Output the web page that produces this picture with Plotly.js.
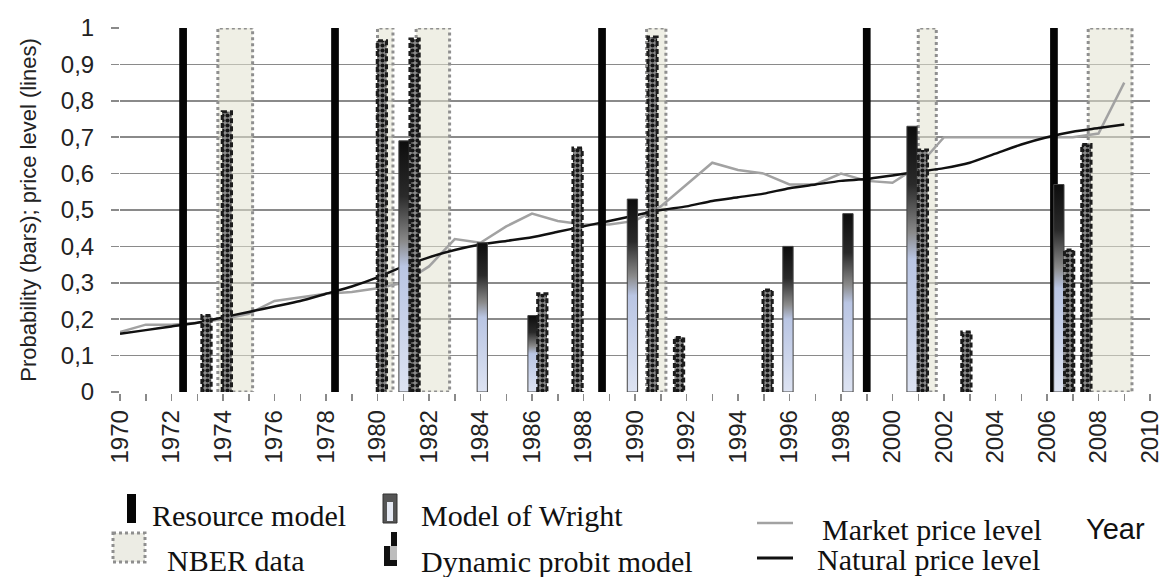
<!DOCTYPE html>
<html><head><meta charset="utf-8">
<script src="https://cdn.plot.ly/plotly-3.0.1.min.js"></script>
<style>html,body{margin:0;padding:0;background:#fff;}#chart{width:1164px;height:577px;}</style>
</head><body><div id="chart"></div>
<script>
// ---------------- data ----------------
const years = [1970,1971,1972,1973,1974,1975,1976,1977,1978,1979,
               1980,1981,1982,1983,1984,1985,1986,1987,1988,1989,
               1990,1991,1992,1993,1994,1995,1996,1997,1998,1999,
               2000,2001,2002,2003,2004,2005,2006,2007,2008,2009];
const marketPrice = [0.165,0.185,0.185,0.19,0.20,0.215,0.25,0.26,0.27,0.275,
                     0.285,0.30,0.345,0.42,0.41,0.455,0.49,0.47,0.46,0.46,
                     0.47,0.51,0.57,0.63,0.61,0.60,0.57,0.57,0.60,0.58,
                     0.575,0.62,0.70,0.70,0.70,0.70,0.70,0.70,0.71,0.85];
const naturalPrice = [0.16,0.17,0.18,0.19,0.205,0.22,0.235,0.25,0.27,0.29,
                      0.315,0.345,0.37,0.39,0.405,0.415,0.425,0.44,0.455,0.47,
                      0.485,0.50,0.51,0.525,0.535,0.545,0.56,0.57,0.58,0.585,
                      0.595,0.605,0.615,0.63,0.655,0.68,0.70,0.715,0.725,0.735];

const resourceYears = [1972.45, 1978.35, 1988.72, 1999.0, 2006.27];
const resourceProb  = [1, 1, 1, 1, 1];

const wrightYears = [1981.03, 1984.07, 1986.04, 1989.9, 1995.94, 1998.27, 2000.76, 2006.46];
const wrightProb  = [0.69, 0.41, 0.21, 0.53, 0.40, 0.49, 0.73, 0.57];

const probitYears = [1973.36, 1974.15, 1980.17, 1981.44, 1986.4, 1987.77, 1990.68,
                     1991.71, 1995.15, 2001.18, 2002.87, 2006.86, 2007.53];
const probitProb  = [0.21, 0.77, 0.965, 0.97, 0.27, 0.67, 0.975,
                     0.15, 0.28, 0.665, 0.165, 0.39, 0.68];

const nberStart = [1973.8, 1980.0, 1981.5, 1990.45, 2001.0, 2007.6];
const nberEnd   = [1975.15, 1980.6, 1982.8, 1991.2, 2001.7, 2009.3];

const xTickYears = [1970,1972,1974,1976,1978,1980,1982,1984,1986,1988,1990,
                    1992,1994,1996,1998,2000,2002,2004,2006,2008,2010];
const yTickVals  = [0,0.1,0.2,0.3,0.4,0.5,0.6,0.7,0.8,0.9,1];
const yTickText  = ['0','0,1','0,2','0,3','0,4','0,5','0,6','0,7','0,8','0,9','1'];

const legendLabels = ['Resource model','NBER data','Model of Wright','Dynamic probit model',
                      'Market price level','Natural price level'];
const xTitle = 'Year';
const yTitle = 'Probability (bars); price level (lines)';

// ---------------- derived geometry from data ----------------
const NBER_TOP = 1;
const nberX = [], nberY = [];
nberStart.forEach((s, i) => {
  const e = nberEnd[i];
  nberX.push(s, s, e, e, s, null);
  nberY.push(0, NBER_TOP, NBER_TOP, 0, 0, null);
});
const PW = 0.36;
const outX = [], outY = [];
probitYears.forEach((x, i) => {
  const v = probitProb[i];
  outX.push(x - PW/2, x - PW/2, x + PW/2, x + PW/2, null);
  outY.push(0, v, v, 0, null);
});

const WRIGHT_KEY = 'rgb(1, 2, 3)';

const data = [
  {type:'scatter', x:nberX, y:nberY, mode:'lines', fill:'toself',
   fillcolor:'rgba(226,226,208,0.55)', line:{color:'#8f8f8f', width:3, dash:'dot'},
   hoverinfo:'skip', zorder:0, name:legendLabels[1]},
  {type:'scatter', x:years, y:marketPrice, mode:'lines',
   line:{color:'#a2a2a2', width:2.5}, zorder:1, name:legendLabels[4]},
  {type:'scatter', x:years, y:naturalPrice, mode:'lines',
   line:{color:'#111', width:2.5, shape:'spline', smoothing:0.6}, zorder:1, name:legendLabels[5]},
  {type:'bar', x:resourceYears, y:resourceProb, width:0.3,
   marker:{color:'#050505', line:{width:0}}, zorder:2, name:legendLabels[0]},
  {type:'bar', x:wrightYears, y:wrightProb, width:0.4,
   marker:{color:WRIGHT_KEY, line:{color:'#444', width:1}}, zorder:2, name:legendLabels[2]},
  {type:'bar', x:probitYears, y:probitProb, width:PW,
   marker:{color:'#808080', pattern:{shape:'.', fgcolor:'#151515', bgcolor:'#8a8a8a', size:5, solidity:0.55},
           line:{width:0}}, zorder:2, name:legendLabels[3]},
  {type:'scatter', x:outX, y:outY, mode:'lines',
   line:{color:'#1c1c1c', width:3, dash:'5px,3px'}, hoverinfo:'skip', zorder:3, showlegend:false}
];

// pixel helpers for the hand-built legend (layout only)
const PL = 120, PR = 1150, PT = 28, PB = 392;
const fx = px => (px - PL) / (PR - PL);
const fy = py => (PB - py) / (PB - PT);

const serif = 'Liberation Serif, Times New Roman, serif';
const sans = 'Liberation Sans, Arial, sans-serif';
const legendText = (txt, xl, yc, fam, size) => ({
  text: txt, xref:'paper', yref:'paper', x: fx(xl), y: fy(yc),
  xanchor:'left', yanchor:'middle', showarrow:false,
  font:{family:fam, size:size, color:'#111'}
});
const annotations = [
  legendText(legendLabels[0], 150, 515, serif, 30),
  legendText(legendLabels[1], 165, 560, serif, 30),
  legendText(legendLabels[2], 419, 515, serif, 30),
  legendText(legendLabels[3], 419, 561, serif, 30),
  legendText(legendLabels[4], 820, 529, serif, 30),
  legendText(legendLabels[5], 815, 559, serif, 30),
  legendText(xTitle, 1084, 529, sans, 29)
];

const rect = (x0, y0, x1, y1, fill, line) => ({
  type:'rect', xref:'paper', yref:'paper', x0:fx(x0), x1:fx(x1), y0:fy(y0), y1:fy(y1),
  fillcolor:fill, line: line || {width:0}, layer:'above'
});
const shapes = [
  rect(127, 494, 136, 523, '#050505'),
  rect(113, 533, 145, 562, '#ecece4', {color:'#8f8f8f', width:3, dash:'dot'}),
  rect(383, 494, 397, 523, '#555', {color:'#333', width:1}),
  rect(387, 502, 393, 521, '#e6eaf4'),
  rect(391, 532, 397, 546, '#111'),
  rect(384, 546, 390, 566, '#111'),
  rect(390, 546, 397, 560, '#bdbdbd'),
  rect(384, 560, 397, 566, '#111'),
  {type:'line', xref:'paper', yref:'paper', x0:fx(757), x1:fx(793), y0:fy(523), y1:fy(523),
   line:{color:'#a2a2a2', width:2.5}},
  {type:'line', xref:'paper', yref:'paper', x0:fx(757), x1:fx(793), y0:fy(558), y1:fy(558),
   line:{color:'#111', width:3}}
];

const layout = {
  width:1164, height:577,
  margin:{l:PL, r:1164-PR, t:PT, b:577-PB},
  paper_bgcolor:'#fff', plot_bgcolor:'#fff',
  showlegend:false, barmode:'overlay',
  font:{family:sans, color:'#222'},
  xaxis:{range:[1970,2010], tickmode:'array', tickvals:xTickYears, tickformat:'d', tickangle:-90,
         tickfont:{size:24, family:sans, color:'#222'},
         ticks:'outside', ticklen:7, tickwidth:1.5, tickcolor:'#8a8a8a',
         minor:{tickmode:'linear', tick0:1970, dtick:1, ticks:'outside', ticklen:7, tickwidth:1.5, tickcolor:'#8a8a8a', showgrid:false},
         showgrid:false, zeroline:false, showline:true, linecolor:'#8a8a8a', linewidth:1.5, automargin:false},
  yaxis:{range:[0,1], tickmode:'array', tickvals:yTickVals, ticktext:yTickText,
         tickfont:{size:24, family:sans, color:'#222'},
         ticks:'outside', ticklen:8, tickwidth:1.5, tickcolor:'#8a8a8a', ticklabelstandoff:12,
         showgrid:true, gridcolor:'#8a8a8a', gridwidth:1.5, zeroline:false, showline:false,
         automargin:false,
         title:{text:yTitle, standoff:18, font:{size:22, family:sans, color:'#222'}}},
  annotations: annotations,
  shapes: shapes
};

Plotly.newPlot('chart', data, layout, {staticPlot:true, displayModeBar:false}).then(gd => {
  const ns = 'http://www.w3.org/2000/svg';
  const svg = gd.querySelector('svg.main-svg');
  let defs = svg.querySelector('defs');
  if (!defs) { defs = document.createElementNS(ns, 'defs'); svg.insertBefore(defs, svg.firstChild); }
  const grad = document.createElementNS(ns, 'linearGradient');
  grad.setAttribute('id', 'wrightGrad');
  grad.setAttribute('x1', '0'); grad.setAttribute('y1', '0');
  grad.setAttribute('x2', '0'); grad.setAttribute('y2', '1');
  [['0','#0d0d0d'],['0.22','#2a2a2a'],['0.4','#8a8a8a'],['0.5','#b9c5e3'],['1','#dde3f2']].forEach(([o,c]) => {
    const s = document.createElementNS(ns, 'stop');
    s.setAttribute('offset', o); s.setAttribute('stop-color', c);
    grad.appendChild(s);
  });
  defs.appendChild(grad);
  gd.querySelectorAll('.point path').forEach(p => {
    if ((p.style.fill || '').replace(/\s/g,'') === WRIGHT_KEY.replace(/\s/g,'')) p.style.fill = 'url(#wrightGrad)';
  });
});
</script>
</body></html>
